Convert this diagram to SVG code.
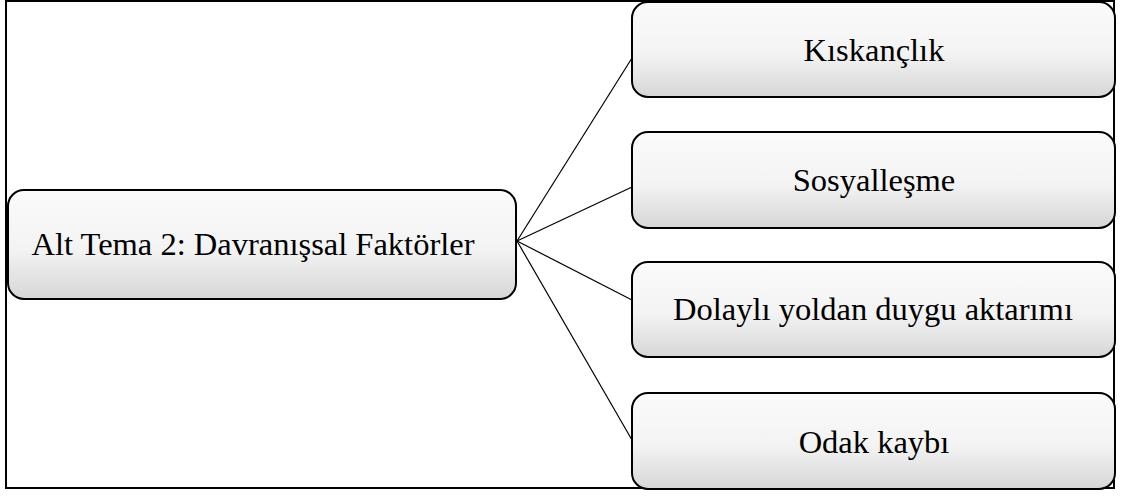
<svg xmlns="http://www.w3.org/2000/svg" width="1121" height="496" viewBox="0 0 1121 496">
<defs>
<linearGradient id="g" x1="0" y1="0" x2="0" y2="1">
<stop offset="0" stop-color="#fbfbfb"/>
<stop offset="0.55" stop-color="#f3f3f3"/>
<stop offset="1" stop-color="#d6d6d6"/>
</linearGradient>
</defs>
<style>
.frame{fill:#fff;stroke:#000;stroke-width:2}
.box{fill:url(#g);stroke:#000;stroke-width:2}
.t{font-family:"Liberation Serif","Times New Roman",serif;font-size:32.5px;fill:#000;text-anchor:middle}
.c{stroke:#000;stroke-width:1.2;fill:none}
</style>
<rect class="frame" x="6" y="1" width="1108" height="487"/>
<g id="connectors">
<line class="c" x1="517" y1="241" x2="632" y2="58"/>
<line class="c" x1="517" y1="241" x2="632" y2="187"/>
<line class="c" x1="517" y1="241" x2="632" y2="300"/>
<line class="c" x1="517" y1="241" x2="632" y2="440"/>
</g>
<g id="root">
<rect class="box" x="8" y="190" width="508" height="109" rx="16"/>
<text class="t" x="253" y="255">Alt Tema 2: Davranışsal Faktörler</text>
</g>
<g id="n1">
<rect class="box" x="632" y="2" width="483" height="95" rx="16"/>
<text class="t" x="874" y="61">Kıskançlık</text>
</g>
<g id="n2">
<rect class="box" x="632" y="132" width="483" height="96" rx="16"/>
<text class="t" x="874" y="191">Sosyalleşme</text>
</g>
<g id="n3">
<rect class="box" x="632" y="262" width="483" height="95" rx="16"/>
<text class="t" x="873" y="320">Dolaylı yoldan duygu aktarımı</text>
</g>
<g id="n4">
<rect class="box" x="632" y="393" width="483" height="96" rx="16"/>
<text class="t" x="874" y="453">Odak kaybı</text>
</g>
</svg>
